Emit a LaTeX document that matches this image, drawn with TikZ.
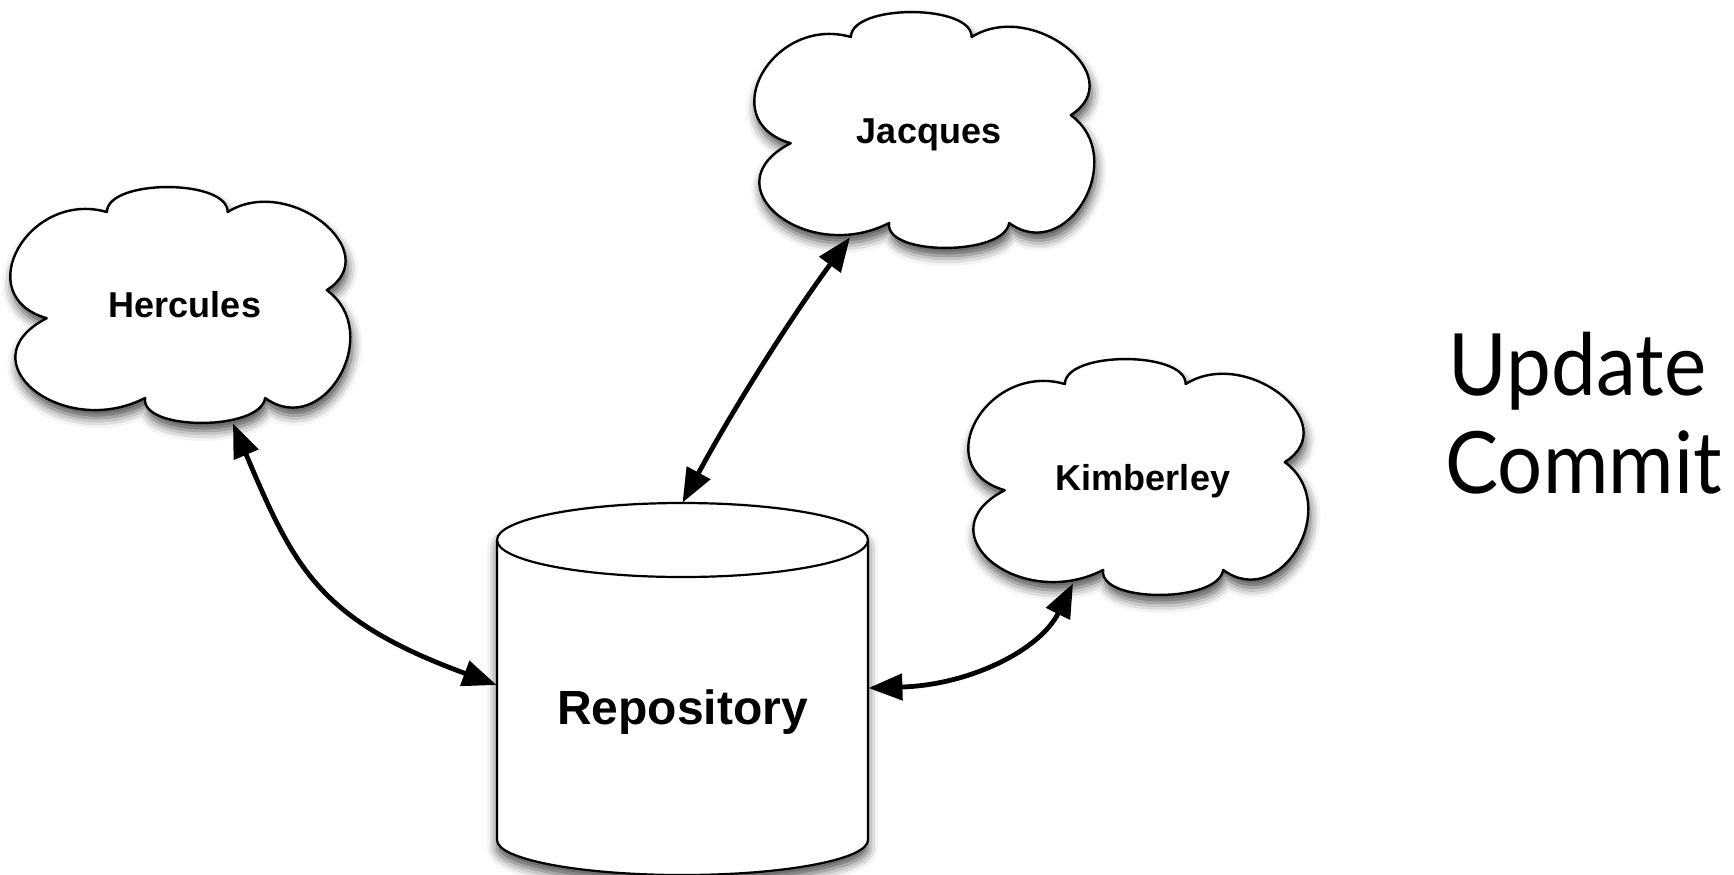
\documentclass[tikz,border=0pt]{standalone}
\usepackage{fontspec}
\usepackage{graphicx}
\setmainfont{Liberation Sans}
\newfontfamily\gillfont{Lato}
\usetikzlibrary{arrows.meta,shadows.blur}
\newcommand{\drawcloud}[2]{%
  \begin{scope}[shift={(#1,#2)},x=172pt,y=-118pt]
    \filldraw[cloudshape] (0.098,0.556)
      .. controls (-0.129,0.461) and (0.046,0.011) .. (0.273,0.106)
      .. controls (0.274,-0.035) and (0.625,-0.035) .. (0.624,0.106)
      .. controls (0.800,-0.056) and (1.088,0.275) .. (0.912,0.437)
      .. controls (1.082,0.616) and (0.903,1.073) .. (0.733,0.894)
      .. controls (0.719,1.035) and (0.370,1.035) .. (0.384,0.894)
      .. controls (0.143,1.074) and (-0.143,0.736) .. (0.098,0.556) -- cycle;
  \end{scope}}
\begin{document}
\begin{tikzpicture}[x=0.5pt,y=-0.5pt,
  cloudshape/.style={draw=black, line width=1.2pt, fill=white, line join=round,
    blur shadow={shadow xshift=1pt, shadow yshift=-4pt, shadow opacity=70, shadow blur radius=5pt}},
  cylshape/.style={draw=black, line width=1.1pt, fill=white, line join=round,
    blur shadow={shadow xshift=0pt, shadow yshift=-4pt, shadow opacity=70, shadow blur radius=5pt}},
  cloudbox/.style={minimum width=172pt, minimum height=118pt, inner sep=0pt,
    font=\bfseries\fontsize{18}{20}\selectfont},
  repotext/.style={font=\bfseries\fontsize{24}{28}\selectfont, anchor=base, inner sep=0pt},
  conn/.style={line width=2.4pt, draw=black,
    {Triangle[length=17pt,width=13pt,fill=black]}-{Triangle[length=17pt,width=13pt,fill=black]}},
  bigtext/.style={font=\gillfont\fontsize{43}{50}\selectfont, anchor=base, inner sep=0pt}]
\useasboundingbox (0,0) rectangle (1734,874);

% clouds
\drawcloud{13}{187}
\node[cloudbox] (herc) at (185,305) {Hercules};
\drawcloud{757}{12}
\node[cloudbox] (jac) at (929,135) {Jacques};
\drawcloud{971}{359}
\node[cloudbox] (kim) at (1143,481) {Kimberley};

% cylinder
\filldraw[cylshape] (497,540) -- (497,840)
  .. controls (497,859.33) and (580.05,875) .. (682.5,875)
  .. controls (784.95,875) and (868,859.33) .. (868,840)
  -- (868,540)
  .. controls (868,519.56) and (784.95,503) .. (682.5,503)
  .. controls (580.05,503) and (497,519.56) .. (497,540) -- cycle;
\draw[line width=1.1pt] (497,540)
  .. controls (497,560.44) and (580.05,577) .. (682.5,577)
  .. controls (784.95,577) and (868,560.44) .. (868,540);
\node[minimum width=185.5pt, minimum height=186pt, inner sep=0pt] (repo) at (682.5,689) {};
\node[repotext] (repolabel) at (682.5,724) {Repository};

% connectors
\draw[conn] ([xshift=24pt]herc.south) .. controls (295,570) and (320,620) .. ([yshift=2pt]repo.west);
\draw[conn] (repo.north) .. controls (732.7,409.7) and (788.3,321.3) .. ([xshift=-39.5pt,yshift=8pt]jac.south);
\draw[conn] ([yshift=0.5pt]repo.east) .. controls (970,685) and (1040,650) .. ([xshift=-35pt,yshift=8pt]kim.south);

% side text
\node[bigtext] (upd) at (1577.5,395) {\scalebox{0.93}[1]{Update}};
\node[bigtext] (com) at (1583.5,493) {\scalebox{0.925}[1]{Commit}};
\end{tikzpicture}
\end{document}
